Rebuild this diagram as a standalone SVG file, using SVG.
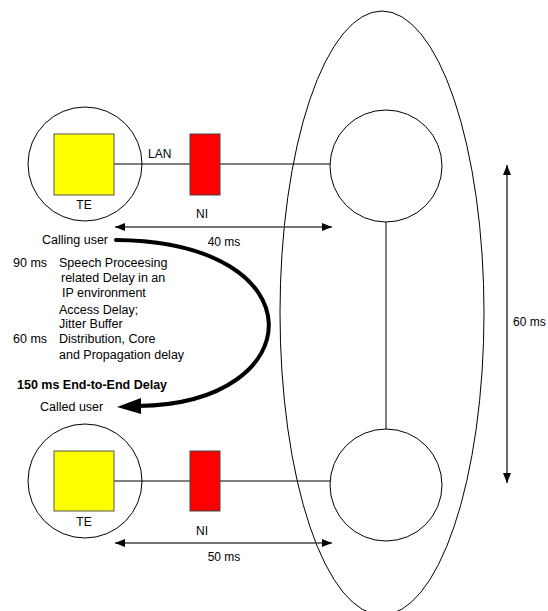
<svg xmlns="http://www.w3.org/2000/svg" width="548" height="611" viewBox="0 0 548 611">
  <style>
    .ring { fill: none; stroke: #000; stroke-width: 1; }
    .te { fill: #ffff00; stroke: #555; stroke-width: 1; }
    .ni { fill: #ff0000; stroke: #444; stroke-width: 1; }
    .link { stroke: #000; stroke-width: 1; fill: none; }
    .dim { stroke: #444; stroke-width: 1.5; fill: none; marker-start: url(#headStart); marker-end: url(#headEnd); }
    .dimv { stroke: #000; stroke-width: 1.2; fill: none; marker-start: url(#headStart); marker-end: url(#headEnd); }
    text { font-family: "Liberation Sans", Arial, sans-serif; font-size: 12px; fill: #000; }
    .lt { font-size: 12.5px; }
    .b { font-weight: bold; }
  </style>
  <defs>
    <marker id="headEnd" viewBox="0 0 10 8" refX="10" refY="4" markerWidth="10" markerHeight="8" markerUnits="userSpaceOnUse" orient="auto">
      <path d="M0,0 L10,4 L0,8 Z" fill="#000"/>
    </marker>
    <marker id="headStart" viewBox="0 0 10 8" refX="0" refY="4" markerWidth="10" markerHeight="8" markerUnits="userSpaceOnUse" orient="auto">
      <path d="M10,0 L0,4 L10,8 Z" fill="#000"/>
    </marker>
  </defs>

  <!-- core network boundary -->
  <ellipse id="core" cx="382" cy="313" rx="102" ry="302" class="ring"/>

  <g id="connectors">
    <line class="link" x1="114" y1="164" x2="330" y2="164"/>
    <line class="link" x1="114" y1="481" x2="330" y2="481"/>
    <line class="link" x1="386" y1="222" x2="386" y2="429"/>
    <line class="dim" x1="115" y1="227" x2="332" y2="227"/>
    <line class="dim" x1="115" y1="543" x2="332" y2="543"/>
    <line class="dimv" x1="507" y1="165" x2="507" y2="483"/>
    <!-- end-to-end path from calling to called user -->
    <path d="M116,240 C320,242 312,404 138,406" stroke="#000" stroke-width="4" fill="none" stroke-linecap="round"/>
    <polygon points="117,407 141,398 141,414" fill="#000"/>
  </g>

  <g id="user-top">
    <circle cx="85" cy="164" r="57" class="ring"/>
    <rect id="te-top" x="54" y="134" width="60" height="61" class="te"/>
    <text x="84" y="209" text-anchor="middle">TE</text>
  </g>
  <g id="ni-top">
    <rect x="190" y="134" width="30" height="61" class="ni"/>
    <text x="202" y="218" text-anchor="middle">NI</text>
  </g>
  <text x="148" y="158">LAN</text>
  <text x="224" y="246" text-anchor="middle">40 ms</text>

  <g id="node-top">
    <circle cx="386" cy="166" r="56" class="ring"/>
  </g>
  <g id="node-bottom">
    <circle cx="386" cy="485" r="56" class="ring"/>
  </g>

  <g id="user-bottom">
    <circle cx="85" cy="481" r="57" class="ring"/>
    <rect id="te-bottom" x="54" y="451" width="60" height="60" class="te"/>
    <text x="84" y="526" text-anchor="middle">TE</text>
  </g>
  <g id="ni-bottom">
    <rect x="190" y="451" width="30" height="60" class="ni"/>
    <text x="202" y="535" text-anchor="middle">NI</text>
  </g>
  <text x="224" y="561" text-anchor="middle">50 ms</text>

  <text x="513" y="326">60 ms</text>

  <g id="budget">
    <text class="lt" x="42" y="244">Calling user</text>
    <text class="lt" x="13" y="267">90 ms</text>
    <text class="lt" x="59" y="267">Speech Proceesing</text>
    <text class="lt" x="61" y="282">related Delay in an</text>
    <text class="lt" x="62" y="297">IP environment</text>
    <text class="lt" x="59" y="314">Access Delay;</text>
    <text class="lt" x="59" y="328">Jitter Buffer</text>
    <text class="lt" x="13" y="343">60 ms</text>
    <text class="lt" x="59" y="343">Distribution, Core</text>
    <text class="lt" x="59" y="359">and Propagation delay</text>
    <text class="lt b" x="17" y="389">150 ms End-to-End Delay</text>
    <text class="lt" x="40" y="411">Called user</text>
  </g>
</svg>
